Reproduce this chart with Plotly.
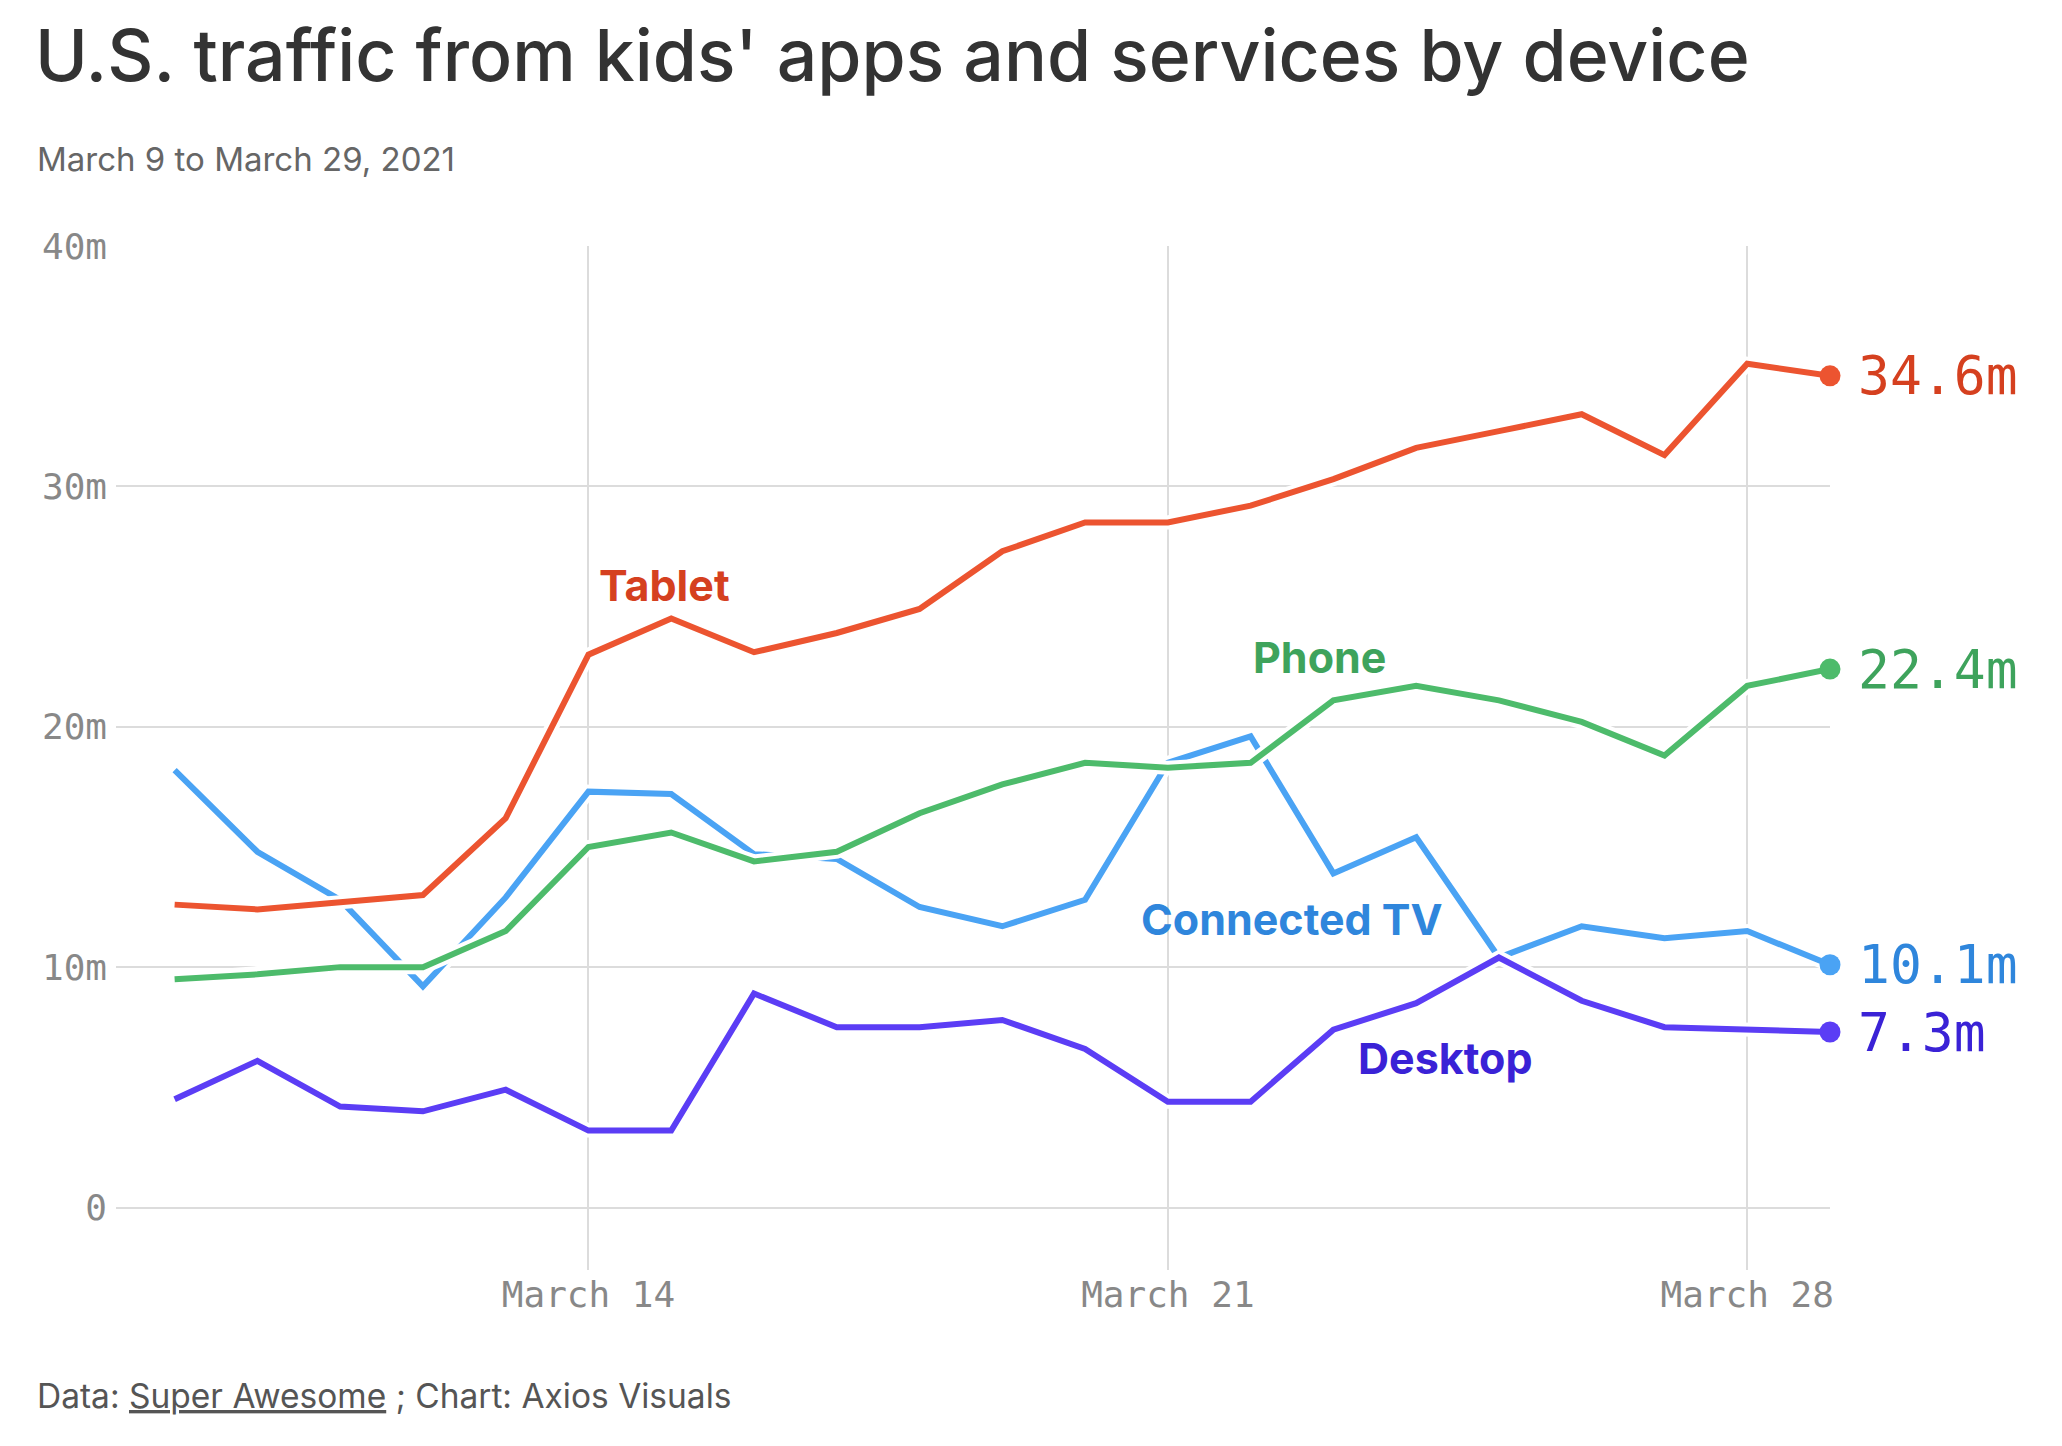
import pandas as pd
import plotly.graph_objects as go

dates = pd.date_range("2021-03-09", "2021-03-29", freq="D")

tablet = [12.6, 12.4, 12.7, 13.0, 16.2, 23.0, 24.5, 23.1, 23.9, 24.9, 27.3,
          28.5, 28.5, 29.2, 30.3, 31.6, 32.3, 33.0, 31.3, 35.1, 34.6]
phone = [9.5, 9.7, 10.0, 10.0, 11.5, 15.0, 15.6, 14.4, 14.8, 16.4, 17.6,
         18.5, 18.3, 18.5, 21.1, 21.7, 21.1, 20.2, 18.8, 21.7, 22.4]
connected_tv = [18.2, 14.8, 12.8, 9.2, 12.9, 17.3, 17.2, 14.7, 14.5, 12.5, 11.7,
                12.8, 18.5, 19.6, 13.9, 15.4, 10.4, 11.7, 11.2, 11.5, 10.1]
desktop = [4.5, 6.1, 4.2, 4.0, 4.9, 3.2, 3.2, 8.9, 7.5, 7.5, 7.8,
           6.6, 4.4, 4.4, 7.4, 8.5, 10.4, 8.6, 7.5, 7.4, 7.3]

# name, values, line colour, label colour, label position (date, value)
series = [
    ("Connected TV", connected_tv, "#4aa3f4", "#2f86dc", ("2021-03-22 12:00", 12.0)),
    ("Phone", phone, "#4dbb6b", "#3ea35c", ("2021-03-22 20:00", 22.9)),
    ("Desktop", desktop, "#5b3df5", "#3a22d6", ("2021-03-24 08:30", 6.2)),
    ("Tablet", tablet, "#ec5430", "#d5401f", ("2021-03-14 22:00", 25.9)),
]

W, H = 2062, 1446
L, R, T, B = 108, 240, 238, 184
PW, PH = W - L - R, H - T - B

fig = go.Figure()

for name, vals, color, label_color, pos in series:
    # white halo so crossing lines separate
    fig.add_trace(go.Scatter(x=dates, y=vals, mode="lines",
                             line=dict(color="white", width=14),
                             hoverinfo="skip", showlegend=False))
    fig.add_trace(go.Scatter(x=dates, y=vals, mode="lines", name=name,
                             line=dict(color=color, width=6),
                             showlegend=False))
    fig.add_trace(go.Scatter(x=[dates[-1]], y=[vals[-1]], mode="markers",
                             marker=dict(color=color, size=21),
                             cliponaxis=False, showlegend=False))
    fig.add_annotation(x=dates[-1], y=vals[-1], text=f"{vals[-1]:.1f}m",
                       showarrow=False, xanchor="left", xshift=26,
                       font=dict(family="DejaVu Sans Mono", size=53, color=label_color))
    fig.add_annotation(x=pos[0], y=pos[1], text=f"<b>{name}</b>", showarrow=False,
                       font=dict(family="Inter", size=43, color=label_color))

fig.update_layout(
    width=W, height=H,
    margin=dict(l=L, r=R, t=T, b=B),
    paper_bgcolor="white", plot_bgcolor="white",
    title=dict(text="U.S. traffic from kids' apps and services by device",
               x=27 / W, xanchor="left", y=1 - 48 / H, yanchor="middle",
               font=dict(family="Inter", size=71.5, weight=500, color="#333333")),
    font=dict(family="Inter"),
)

fig.add_annotation(xref="paper", yref="paper", x=-(L - 27) / PW, y=1 + 87 / PH,
                   text="March 9 to March 29, 2021", showarrow=False,
                   xanchor="left", yanchor="middle",
                   font=dict(family="Inter", size=33, color="#666666"))
fig.add_annotation(xref="paper", yref="paper", x=-(L - 27) / PW, y=-(1388 - (H - B)) / PH,
                   text="Data: <u>Super Awesome</u> ; Chart: Axios Visuals",
                   showarrow=False, xanchor="left", yanchor="middle",
                   font=dict(family="Inter", size=33.5, color="#555555"))

fig.update_xaxes(
    range=[pd.Timestamp("2021-03-08 07:00"), pd.Timestamp("2021-03-29")],
    tickvals=["2021-03-14", "2021-03-21", "2021-03-28"],
    ticktext=["March 14", "March 21", "March 28"],
    showgrid=True, gridcolor="#dcdcdc", gridwidth=1.5,
    zeroline=False, showline=False, ticks="",
    tickfont=dict(family="DejaVu Sans Mono", size=36, color="#888888"),
)
fig.update_yaxes(
    range=[-2.6, 40],
    tickvals=[0, 10, 20, 30, 40],
    ticktext=["0", "10m", "20m", "30m", "40m"],
    showgrid=True, gridcolor="#dcdcdc", gridwidth=1.5,
    zeroline=False, showline=False, ticks="", ticklabelstandoff=8,
    tickfont=dict(family="DejaVu Sans Mono", size=36, color="#888888"),
)

fig.write_html("out.html")
